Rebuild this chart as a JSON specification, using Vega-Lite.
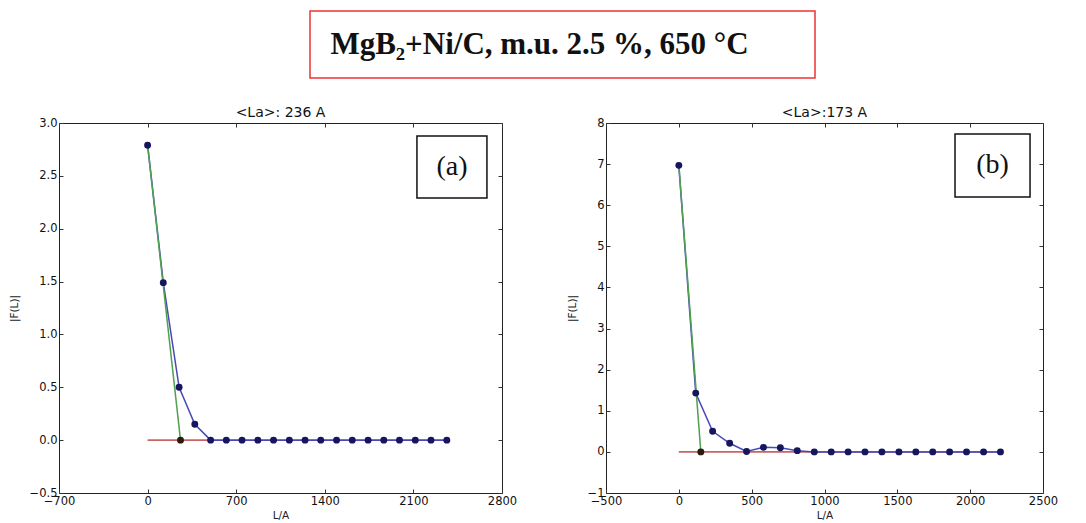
{
  "$schema": "https://vega.github.io/schema/vega-lite/v6.json",
  "padding": {"left": 8, "top": 10, "right": 0, "bottom": 0},
  "background": "white",
  "config": {
    "view": {"stroke": null},
    "font": "DejaVu Sans",
    "axis": {
      "grid": false,
      "domain": false,
      "labelFont": "DejaVu Sans",
      "labelFontSize": 11.5,
      "labelColor": "#111",
      "titleFont": "DejaVu Sans",
      "titleFontSize": 10.5,
      "titleFontWeight": "normal",
      "titleColor": "#222",
      "tickColor": "#333",
      "tickSize": -4,
      "labelPadding": 6,
      "labelFlush": false,
      "labelOverlap": false
    },
    "axisY": {"titlePadding": 10},
    "axisX": {"titlePadding": 4}
  },
  "datasets": {
    "a_profile": [
      {"L": 0, "F": 2.79}, {"L": 124, "F": 1.49}, {"L": 249, "F": 0.5}, {"L": 373, "F": 0.15},
      {"L": 498, "F": 0}, {"L": 622, "F": 0}, {"L": 746, "F": 0}, {"L": 871, "F": 0},
      {"L": 995, "F": 0}, {"L": 1120, "F": 0}, {"L": 1244, "F": 0}, {"L": 1368, "F": 0},
      {"L": 1493, "F": 0}, {"L": 1617, "F": 0}, {"L": 1742, "F": 0}, {"L": 1866, "F": 0},
      {"L": 1990, "F": 0}, {"L": 2115, "F": 0}, {"L": 2239, "F": 0}, {"L": 2364, "F": 0}
    ],
    "a_fit": [{"L": 0, "F": 2.79}, {"L": 260, "F": 0}],
    "a_cross": [{"L": 260, "F": 0}],
    "a_base": [{"L": 0, "F": 0}, {"L": 2364, "F": 0}],
    "a_box": [{"x1": 2128, "x2": 2681, "y1": 2.29, "y2": 2.877, "xc": 2405, "yc": 2.58, "label": "(a)"}],
    "b_profile": [
      {"L": 0, "F": 6.97}, {"L": 116, "F": 1.43}, {"L": 232, "F": 0.5}, {"L": 349, "F": 0.21},
      {"L": 465, "F": 0.01}, {"L": 581, "F": 0.11}, {"L": 697, "F": 0.1}, {"L": 813, "F": 0.03},
      {"L": 930, "F": 0}, {"L": 1046, "F": 0}, {"L": 1162, "F": 0}, {"L": 1278, "F": 0},
      {"L": 1394, "F": 0}, {"L": 1511, "F": 0}, {"L": 1627, "F": 0}, {"L": 1743, "F": 0},
      {"L": 1859, "F": 0}, {"L": 1975, "F": 0}, {"L": 2092, "F": 0}, {"L": 2208, "F": 0}
    ],
    "b_fit": [{"L": 0, "F": 6.97}, {"L": 151, "F": 0}],
    "b_cross": [{"L": 151, "F": 0}],
    "b_base": [{"L": 0, "F": 0}, {"L": 2208, "F": 0}],
    "b_box": [{"x1": 1896, "x2": 2411, "y1": 6.2, "y2": 7.73, "xc": 2153, "yc": 6.97, "label": "(b)"}],
    "header": [{"t": "MgB₂+Ni/C, m.u. 2.5 %, 650 °C"}]
  },
  "vconcat": [
    {
      "hconcat": [
        {"width": 230, "height": 67, "data": {"values": []}, "mark": "point", "encoding": {}},
        {
          "width": 505, "height": 67,
          "view": {"stroke": "#ee3333", "strokeWidth": 1.5},
          "data": {"name": "header"},
          "mark": {"type": "text", "font": "Liberation Serif", "fontSize": 31, "fontWeight": "bold", "dx": -23, "color": "#111"},
          "encoding": {"text": {"field": "t"}}
        }
      ],
      "spacing": 20
    },
    {
      "hconcat": [
        {
          "width": 443, "height": 370,
          "view": {"stroke": "#222", "strokeWidth": 1},
          "title": {"text": "<La>: 236 A", "fontSize": 14, "fontWeight": "normal", "font": "DejaVu Sans", "offset": -3, "color": "#111"},
          "layer": [
            {
              "data": {"name": "a_base"},
              "mark": {"type": "line", "color": "#c86464", "strokeWidth": 1.6},
              "encoding": {
                "x": {"field": "L", "type": "quantitative", "scale": {"domain": [-700, 2800], "nice": false, "zero": false},
                      "axis": {"values": [-700, 0, 700, 1400, 2100, 2800], "format": "d", "title": "L/A"}},
                "y": {"field": "F", "type": "quantitative", "scale": {"domain": [-0.5, 3], "nice": false, "zero": false},
                      "axis": {"values": [-0.5, 0, 0.5, 1, 1.5, 2, 2.5, 3], "format": ".1f", "title": "|F(L)|"}}
              }
            },
            {
              "data": {"name": "a_profile"},
              "mark": {"type": "line", "color": "#4848b8", "strokeWidth": 1.5},
              "encoding": {"x": {"field": "L", "type": "quantitative", "axis": null}, "y": {"field": "F", "type": "quantitative", "axis": null}}
            },
            {
              "data": {"name": "a_fit"},
              "mark": {"type": "line", "color": "#4fa04f", "strokeWidth": 1.5},
              "encoding": {"x": {"field": "L", "type": "quantitative", "axis": null}, "y": {"field": "F", "type": "quantitative", "axis": null}}
            },
            {
              "data": {"name": "a_profile"},
              "mark": {"type": "circle", "color": "#16165e", "size": 48, "opacity": 1},
              "encoding": {"x": {"field": "L", "type": "quantitative", "axis": null}, "y": {"field": "F", "type": "quantitative", "axis": null}}
            },
            {
              "data": {"name": "a_cross"},
              "mark": {"type": "circle", "color": "#2a1a10", "size": 48, "opacity": 1},
              "encoding": {"x": {"field": "L", "type": "quantitative", "axis": null}, "y": {"field": "F", "type": "quantitative", "axis": null}}
            },
            {
              "data": {"name": "a_box"},
              "mark": {"type": "rect", "fill": "white", "stroke": "#111", "strokeWidth": 1.5},
              "encoding": {"x": {"field": "x1", "type": "quantitative", "axis": null}, "x2": {"field": "x2"},
                           "y": {"field": "y1", "type": "quantitative", "axis": null}, "y2": {"field": "y2"}}
            },
            {
              "data": {"name": "a_box"},
              "mark": {"type": "text", "font": "Liberation Serif", "fontSize": 28, "color": "#111"},
              "encoding": {"x": {"field": "xc", "type": "quantitative", "axis": null}, "y": {"field": "yc", "type": "quantitative", "axis": null}, "text": {"field": "label"}}
            },
            {
              "data": {"name": "a_base"},
              "mark": {"type": "point", "opacity": 0},
              "encoding": {
                "x": {"field": "L", "type": "quantitative", "axis": {"orient": "top", "labels": false, "title": null, "values": [-700, 0, 700, 1400, 2100, 2800]}},
                "y": {"field": "F", "type": "quantitative", "axis": {"orient": "right", "labels": false, "title": null, "values": [-0.5, 0, 0.5, 1, 1.5, 2, 2.5, 3]}}
              }
            }
          ],
          "resolve": {"axis": {"x": "independent", "y": "independent"}}
        },
        {
          "width": 437, "height": 370,
          "view": {"stroke": "#222", "strokeWidth": 1},
          "title": {"text": "<La>:173 A", "fontSize": 14, "fontWeight": "normal", "font": "DejaVu Sans", "offset": -3, "color": "#111"},
          "layer": [
            {
              "data": {"name": "b_base"},
              "mark": {"type": "line", "color": "#c86464", "strokeWidth": 1.6},
              "encoding": {
                "x": {"field": "L", "type": "quantitative", "scale": {"domain": [-500, 2500], "nice": false, "zero": false},
                      "axis": {"values": [-500, 0, 500, 1000, 1500, 2000, 2500], "format": "d", "title": "L/A"}},
                "y": {"field": "F", "type": "quantitative", "scale": {"domain": [-1, 8], "nice": false, "zero": false},
                      "axis": {"values": [-1, 0, 1, 2, 3, 4, 5, 6, 7, 8], "format": "d", "title": "|F(L)|"}}
              }
            },
            {
              "data": {"name": "b_profile"},
              "mark": {"type": "line", "color": "#4848b8", "strokeWidth": 1.5},
              "encoding": {"x": {"field": "L", "type": "quantitative", "axis": null}, "y": {"field": "F", "type": "quantitative", "axis": null}}
            },
            {
              "data": {"name": "b_fit"},
              "mark": {"type": "line", "color": "#4fa04f", "strokeWidth": 1.5},
              "encoding": {"x": {"field": "L", "type": "quantitative", "axis": null}, "y": {"field": "F", "type": "quantitative", "axis": null}}
            },
            {
              "data": {"name": "b_profile"},
              "mark": {"type": "circle", "color": "#16165e", "size": 48, "opacity": 1},
              "encoding": {"x": {"field": "L", "type": "quantitative", "axis": null}, "y": {"field": "F", "type": "quantitative", "axis": null}}
            },
            {
              "data": {"name": "b_cross"},
              "mark": {"type": "circle", "color": "#2a1a10", "size": 48, "opacity": 1},
              "encoding": {"x": {"field": "L", "type": "quantitative", "axis": null}, "y": {"field": "F", "type": "quantitative", "axis": null}}
            },
            {
              "data": {"name": "b_box"},
              "mark": {"type": "rect", "fill": "white", "stroke": "#111", "strokeWidth": 1.5},
              "encoding": {"x": {"field": "x1", "type": "quantitative", "axis": null}, "x2": {"field": "x2"},
                           "y": {"field": "y1", "type": "quantitative", "axis": null}, "y2": {"field": "y2"}}
            },
            {
              "data": {"name": "b_box"},
              "mark": {"type": "text", "font": "Liberation Serif", "fontSize": 28, "color": "#111"},
              "encoding": {"x": {"field": "xc", "type": "quantitative", "axis": null}, "y": {"field": "yc", "type": "quantitative", "axis": null}, "text": {"field": "label"}}
            },
            {
              "data": {"name": "b_base"},
              "mark": {"type": "point", "opacity": 0},
              "encoding": {
                "x": {"field": "L", "type": "quantitative", "axis": {"orient": "top", "labels": false, "title": null, "values": [-500, 0, 500, 1000, 1500, 2000, 2500]}},
                "y": {"field": "F", "type": "quantitative", "axis": {"orient": "right", "labels": false, "title": null, "values": [-1, 0, 1, 2, 3, 4, 5, 6, 7, 8]}}
              }
            }
          ],
          "resolve": {"axis": {"x": "independent", "y": "independent"}}
        }
      ],
      "spacing": 48
    }
  ],
  "spacing": 26
}
